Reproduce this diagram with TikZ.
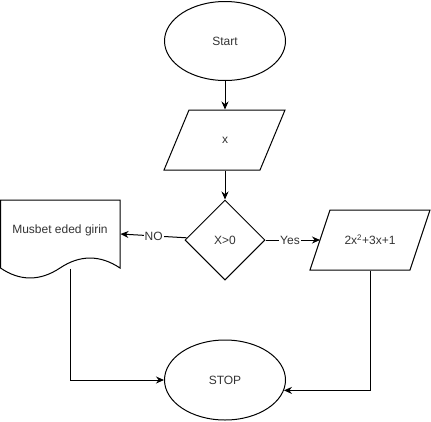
\documentclass[tikz,border=0pt]{standalone}
\usepackage{fontspec}
\setmainfont{Liberation Sans}
\usetikzlibrary{shapes.geometric,arrows.meta}
\begin{document}
\begin{tikzpicture}[x=1pt,y=-1pt,line width=1pt,
  every node/.style={font=\fontsize{12}{14}\selectfont, text=black!80},
  term/.style={ellipse, draw, minimum width=121pt, minimum height=79pt, inner sep=0pt},
  dec/.style={diamond, draw, minimum width=80pt, minimum height=80pt, inner sep=0pt, aspect=1},
  box/.style={rectangle, inner sep=0pt},
  arr/.style={-{Stealth[length=8pt,width=7pt]}},
  lbl/.style={fill=white, inner sep=1pt}]
\useasboundingbox (0,0) rectangle (431,421);
% Start
\node[term] (start) at (225,41) {Start};
% X input parallelogram
\draw (189,110) -- (285,110) -- (260,170) -- (164,170) -- cycle;
\node[box, minimum width=96pt, minimum height=60pt] (xin) at (225,140) {x};
% Decision
\node[dec] (dec) at (225,240) {X>0};
% Document
\draw (0.5,200) -- (120,200) -- (120,268)
  .. controls (100,254.7) and (80,254.7) .. (60,268)
  .. controls (40,281.3) and (20,281.3) .. (0.5,268) -- cycle;
\node[box, minimum width=120pt, minimum height=68pt] (doc) at (60,234) {};
\node at (60,230) {Musbet eded girin};
% Output parallelogram
\draw (330,210) -- (430,210) -- (410,270) -- (310,270) -- cycle;
\node[box, minimum width=100pt, minimum height=60pt] (out) at (370,240) {2x\textsuperscript{2}+3x+1};
% Stop
\node[term, minimum height=80pt] (stop) at (225,380) {STOP};
% Connectors
\draw[arr] (start) -- (xin);
\draw[arr] (xin) -- (dec);
\draw[arr] (dec) -- node[lbl, pos=0.5] {NO} (doc.east);
\draw[arr] (dec) -- node[lbl, pos=0.45] {Yes} (out.west -| 320,240);
\draw[arr] ([xshift=71pt]doc.south west) |- (stop);
\draw[arr] (out.south) |- (stop.-10);
\end{tikzpicture}
\end{document}
